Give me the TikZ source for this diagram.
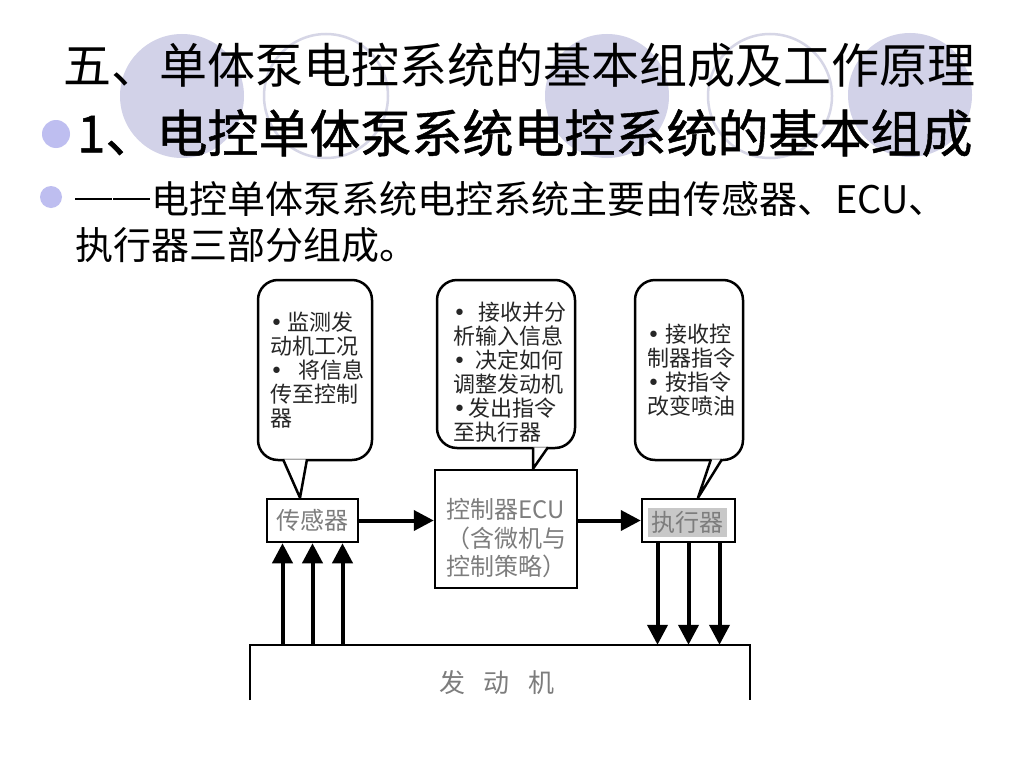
\documentclass[tikz,border=0pt]{standalone}
\usepackage{fontspec}
\setmainfont{Noto Sans CJK SC}
\newfontfamily\symfont{DejaVu Sans}
\newfontfamily\subfont{Noto Sans CJK SC}[FakeBold=1]
\usetikzlibrary{arrows.meta}
\definecolor{bulletC}{RGB}{190,190,240}
\definecolor{circC}{RGB}{210,210,232}
\definecolor{ringC}{RGB}{214,214,230}
\definecolor{boxTxt}{RGB}{125,125,125}
\definecolor{actFill}{RGB}{200,200,200}
\newcommand{\bul}[1]{\makebox[#1][l]{\symfont •}}
\newcommand{\fwdash}{\makebox[1em][l]{\rule[0.36em]{0.97em}{1.5pt}}}

\begin{document}
\begin{tikzpicture}
  [x=1pt,y=-1pt,
   deco/.style={circle,minimum size=124pt,inner sep=0pt},
   decoF/.style={deco,fill=circC},
   decoR/.style={deco,draw=ringC,line width=2.5pt},
   dot/.style={circle,fill=bulletC,inner sep=0pt},
   headT/.style={anchor=west,inner sep=0pt},
   bubN/.style={draw,line width=2.5pt,rounded corners=20pt,inner sep=0pt,fill=white},
   bubT/.style={anchor=north west,inner sep=0pt,align=left,text=black!85,
                font=\fontsize{22}{24}\selectfont},
   boxN/.style={draw,line width=2.5pt,inner sep=0pt,fill=white,text=boxTxt,
                font=\fontsize{24}{28.5}\selectfont},
   boxT/.style={inner sep=0pt,text=boxTxt,align=center,font=\fontsize{24}{28.5}\selectfont},
   tailN/.style={draw,line width=2.5pt,fill=white,line join=round},
   bigArr/.style={line width=4pt,-{Triangle[length=20pt,width=20pt]}},
   upArr/.style={line width=4pt,{Triangle[length=20pt,width=20pt]}-},
  ]

 \fill[white] (0,0) rectangle (1024,768);
 \useasboundingbox (0,0) rectangle (1024,768);

 \node[decoF] (c1) at (182,96) {};
 \node[decoR] (c2) at (326,96) {};
 \node[decoF] (c3) at (607,96) {};
 \node[decoR] (c4) at (770,96) {};
 \node[decoF] (c5) at (910,95) {};

 \node[dot,minimum size=28pt] (d1) at (56,134) {};
 \node[dot,minimum size=22pt] (d2) at (51,197) {};
 \node[headT,font=\fontsize{48}{48}\selectfont] (title) at (63,65) {五、单体泵电控系统的基本组成及工作原理};
 \node[headT,font=\fontsize{51}{51}\subfont] (sub) at (77,133) {1、电控单体泵系统电控系统的基本组成};
 \node[headT,font=\fontsize{38}{38}\selectfont] (line1) at (75,199) {\fwdash\fwdash 电控单体泵系统电控系统主要由传感器、ECU、};
 \node[headT,font=\fontsize{38}{38}\selectfont] (line2) at (75,245) {执行器三部分组成。};

 % bubbles
 \node[bubN,minimum width=114pt,minimum height=180pt] (sBub) at (315,370) {};
 \node[bubN,minimum width=138pt,minimum height=168pt] (eBub) at (506,364) {};
 \node[bubN,minimum width=108pt,minimum height=180pt] (aBub) at (689,370) {};
 \node[bubT] (sTxt) at (270,312) {\bul{17pt}监测发\\动机工况\\\bul{28pt}将信息\\传至控制\\器};
 \node[bubT] (eTxt) at (453,302) {\bul{25pt}接收并分\\析输入信息\\\bul{22pt}决定如何\\调整发动机\\\bul{15pt}发出指令\\至执行器};
 \node[bubT] (aTxt) at (647,324) {\bul{18pt}接收控\\制器指令\\\bul{18pt}按指令\\改变喷油};

 % boxes
 \node[boxN,minimum width=91pt,minimum height=43pt] (sensor) at (312.5,520.5) {传感器};
 \node[boxN,minimum width=142pt,minimum height=118pt] (ecu) at (506,529) {};
 \node[boxT] (ecuT) at (506,538.5) {控制器ECU\\（含微机与\\控制策略）};
 \node[boxN,minimum width=93pt,minimum height=43pt] (act) at (688.5,520.5) {};
 \node[boxT,fill=actFill,minimum width=79pt,minimum height=29pt] (actT) at (687.5,522.5) {执行器};
 \node[minimum width=500pt,minimum height=55pt,inner sep=0pt] (engine) at (500,672.5) {};
 \draw[line width=2.5pt] (engine.south west) -- (engine.north west)
   -- (engine.north east) -- (engine.south east);
 \node[boxT,font=\fontsize{26}{26}\selectfont] (engT) at (497,683) {发\hspace{19pt}动\hspace{19pt}机};

 % tails
 \draw[tailN] ([shift={(-32,-2)}]sBub.south) -- ([xshift=-12.5pt]sensor.north) -- ([shift={(-8,-2)}]sBub.south);
 \draw[tailN] ([shift={(27,-2)}]eBub.south) -- ([xshift=27pt]ecu.north) -- ([shift={(42,-2)}]eBub.south);
 \draw[tailN] ([shift={(22,-2)}]aBub.south) -- ([xshift=9.5pt]act.north) -- ([shift={(33,-2)}]aBub.south);

 % arrows
 \draw[bigArr] (sensor.east) -- (ecu.west |- sensor.east);
 \draw[bigArr] (ecu.east |- act.west) -- (act.west);
 \foreach \dx in {-30,0,30}
   \draw[upArr] ([xshift=\dx pt]sensor.south) -- ([xshift=\dx pt]sensor.south |- engine.north);
 \foreach \dx in {-31,0,31}
   \draw[bigArr] ([xshift=\dx pt]act.south) -- ([xshift=\dx pt]act.south |- engine.north);
\end{tikzpicture}
\end{document}
